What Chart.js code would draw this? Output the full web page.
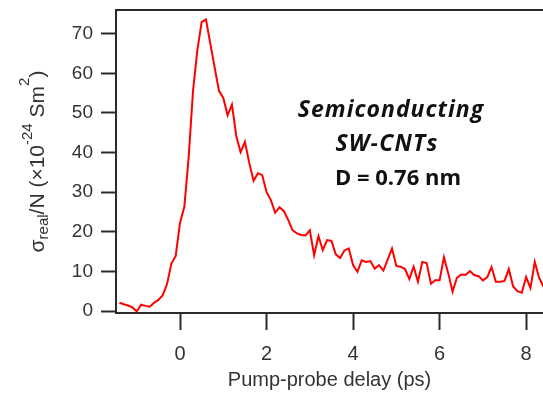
<!DOCTYPE html>
<html>
<head>
<meta charset="utf-8">
<script src="https://cdn.jsdelivr.net/npm/chart.js@4.4.1/dist/chart.umd.min.js"></script>
<style>
  html, body { margin: 0; padding: 0; background: #fff; }
  #wrap { width: 543px; height: 394px; }
</style>
</head>
<body>
<div id="wrap"><canvas id="chart" width="543" height="394"></canvas></div>
<script>
// Pump-probe delay (ps)
const delays = [
  -1.4, -1.3, -1.2, -1.1, -1.0, -0.9, -0.8, -0.7, -0.6, -0.5,
  -0.4, -0.3, -0.2, -0.1, 0.0, 0.1, 0.2, 0.3, 0.4, 0.5,
  0.6, 0.7, 0.8, 0.9, 1.0, 1.1, 1.2, 1.3, 1.4, 1.5,
  1.6, 1.7, 1.8, 1.9, 2.0, 2.1, 2.2, 2.3, 2.4, 2.5,
  2.6, 2.7, 2.8, 2.9, 3.0, 3.1, 3.2, 3.3, 3.4, 3.5,
  3.6, 3.7, 3.8, 3.9, 4.0, 4.1, 4.2, 4.3, 4.4, 4.5,
  4.6, 4.7, 4.8, 4.9, 5.0, 5.1, 5.2, 5.3, 5.4, 5.5,
  5.6, 5.7, 5.8, 5.9, 6.0, 6.1, 6.2, 6.3, 6.4, 6.5,
  6.6, 6.7, 6.8, 6.9, 7.0, 7.1, 7.2, 7.3, 7.4, 7.5,
  7.6, 7.7, 7.8, 7.9, 8.0, 8.1, 8.2, 8.3, 8.4
];

// Real photoconductivity per carrier, sigma_real / N (x10^-24 S m^2)
const sigmaReal = [
  2.1, 1.7, 1.4, 0.9, -0.1, 1.6, 1.3, 1.1, 2.1, 2.8,
  4.0, 6.8, 12.0, 13.9, 22.3, 26.3, 38.9, 55.5, 65.8, 73.0,
  73.6, 67.5, 61.5, 55.6, 53.8, 49.4, 52.1, 44.2, 40.1, 42.7,
  37.4, 32.9, 34.8, 34.3, 30.0, 28.0, 24.8, 26.2, 25.2, 23.0,
  20.4, 19.6, 19.2, 19.1, 20.4, 14.1, 18.9, 15.4, 17.9, 17.7,
  14.3, 13.4, 15.3, 15.8, 11.6, 9.9, 12.8, 12.4, 12.6, 10.7,
  11.6, 10.2, 13.0, 15.8, 11.4, 11.2, 10.6, 8.1, 11.2, 7.4,
  12.4, 12.1, 6.9, 7.8, 7.8, 13.6, 9.5, 4.9, 8.4, 9.2,
  9.1, 10.1, 9.1, 8.8, 7.7, 8.5, 11.1, 7.4, 7.4, 7.6,
  10.6, 6.2, 5.0, 4.6, 8.6, 5.8, 12.4, 8.4, 6.1
];

const xTickValues = [0, 2, 4, 6, 8];
const yTickValues = [0, 10, 20, 30, 40, 50, 60, 70];

const annotationLines = ['Semiconducting', 'SW-CNTs', 'D = 0.76 nm'];

const axisInk = '#333333';
const sansFamily = '"Liberation Sans", Arial, sans-serif';

// Box around the plotting area (left, top and bottom edges are visible)
const framePlugin = {
  id: 'frame',
  beforeDatasetsDraw(chart) {
    const { ctx, chartArea: a } = chart;
    ctx.save();
    ctx.strokeStyle = '#2a2a2a';
    ctx.lineWidth = 2;
    ctx.beginPath();
    ctx.moveTo(a.right + 2, a.top);
    ctx.lineTo(a.left, a.top);
    ctx.lineTo(a.left, a.bottom);
    ctx.lineTo(a.right + 2, a.bottom);
    ctx.stroke();
    ctx.restore();
  }
};

// Rotated y-axis title with subscript and superscripts
const yTitlePlugin = {
  id: 'yTitle',
  afterDraw(chart) {
    const { ctx, chartArea: a } = chart;
    const parts = [
      { t: '\u03C3', size: 21, dy: 0 },
      { t: 'real', size: 15, dy: 4 },
      { t: '/N (\u00D710', size: 21, dy: 0 },
      { t: '-24', size: 15, dy: -12 },
      { t: ' Sm', size: 21, dy: 0 },
      { t: '2', size: 15, dy: -15 },
      { t: ')', size: 21, dy: 0 }
    ];
    ctx.save();
    let total = 0;
    parts.forEach(p => {
      ctx.font = p.size + 'px ' + sansFamily;
      p.w = ctx.measureText(p.t).width;
      total += p.w;
    });
    ctx.translate(44, (a.top + a.bottom) / 2);
    ctx.rotate(-Math.PI / 2);
    ctx.fillStyle = axisInk;
    ctx.textBaseline = 'alphabetic';
    ctx.textAlign = 'left';
    let x = -total / 2;
    parts.forEach(p => {
      ctx.font = p.size + 'px ' + sansFamily;
      ctx.fillText(p.t, x, p.dy);
      x += p.w;
    });
    ctx.restore();
  }
};

// Sample description inside the plot
const notePlugin = {
  id: 'note',
  afterDraw(chart) {
    const { ctx } = chart;
    ctx.save();
    ctx.fillStyle = '#111111';
    ctx.textAlign = 'center';
    ctx.textBaseline = 'alphabetic';
    ctx.font = 'italic bold 23px "Open Sans", sans-serif';
    ctx.letterSpacing = '1px';
    ctx.fillText(annotationLines[0], 391, 117);
    ctx.letterSpacing = '1.2px';
    ctx.fillText(annotationLines[1], 387, 151);
    ctx.letterSpacing = '0px';
    ctx.font = 'bold 22px "Open Sans", sans-serif';
    ctx.fillText(annotationLines[2], 398, 185);
    ctx.restore();
  }
};

new Chart(document.getElementById('chart'), {
  type: 'line',
  data: {
    datasets: [{
      data: delays.map((d, i) => ({ x: d, y: sigmaReal[i] })),
      borderColor: '#ff0000',
      borderWidth: 2,
      pointRadius: 0,
      tension: 0,
      fill: false
    }]
  },
  options: {
    responsive: false,
    animation: false,
    devicePixelRatio: 1,
    layout: { padding: { top: 10, right: 0, bottom: 0, left: 0 } },
    plugins: {
      legend: { display: false },
      tooltip: { enabled: false }
    },
    scales: {
      x: {
        type: 'linear',
        position: 'bottom',
        min: -1.48,
        max: 8.39,
        afterBuildTicks(scale) { scale.ticks = xTickValues.map(v => ({ value: v })); },
        afterFit(scale) {
          scale.height = 81;
          scale.paddingLeft = 0; scale.paddingRight = 0;
        },
        border: { display: false },
        grid: {
          display: true,
          drawOnChartArea: false,
          drawTicks: true,
          tickLength: 17,
          tickWidth: 2,
          tickColor: '#2a2a2a'
        },
        ticks: {
          font: { family: sansFamily, size: 20 },
          color: axisInk,
          padding: 12,
          maxRotation: 0,
          autoSkip: false
        },
        title: {
          display: true,
          text: 'Pump-probe delay (ps)',
          font: { family: sansFamily, size: 20 },
          color: axisInk,
          padding: { top: 0, bottom: 2 }
        }
      },
      y: {
        type: 'linear',
        position: 'left',
        min: -0.5,
        max: 76,
        afterBuildTicks(scale) { scale.ticks = yTickValues.map(v => ({ value: v })); },
        afterFit(scale) {
          scale.width = 116;
          scale.paddingTop = 0; scale.paddingBottom = 0;
        },
        border: { display: false },
        grid: {
          display: true,
          drawOnChartArea: false,
          drawTicks: true,
          tickLength: 15,
          tickWidth: 2,
          tickColor: '#2a2a2a'
        },
        ticks: {
          font: { family: sansFamily, size: 19 },
          color: axisInk,
          padding: 8,
          autoSkip: false
        }
      }
    }
  },
  plugins: [framePlugin, yTitlePlugin, notePlugin]
});
</script>
</body>
</html>
